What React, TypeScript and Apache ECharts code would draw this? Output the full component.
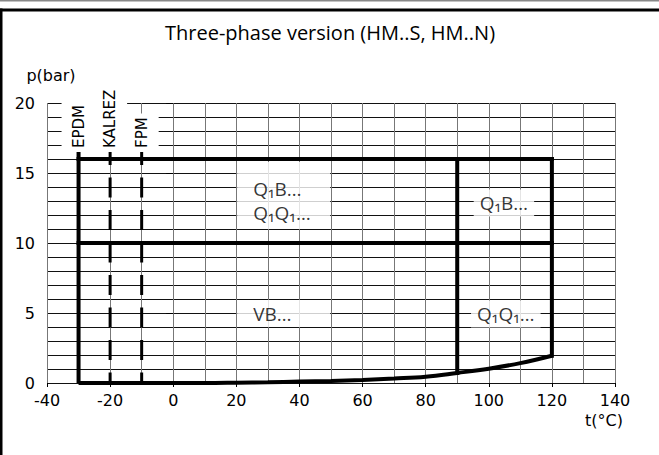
import React, { useEffect, useRef } from 'react';
import * as echarts from 'echarts';

const chartTitle = 'Three-phase version (HM..S, HM..N)';
const yAxisName = 'p(bar)';
const xAxisName = 't(°C)';

// axis ranges
const tempMin = -40;
const tempMax = 140;
const tempStep = 20;
const pressureMin = 0;
const pressureMax = 20;
const pressureStep = 5;

// lower boundary curve (pressure vs temperature)
const curveTemps = [-30, 0, 10, 20, 30, 40, 50, 60, 70, 80, 90, 100, 110, 120];
const curvePressures = [0, 0, 0, 0.02, 0.05, 0.1, 0.15, 0.22, 0.32, 0.45, 0.72, 1.02, 1.42, 1.95];

// seal materials and their minimum temperature
const sealNames = ['EPDM', 'KALREZ', 'FPM'];
const sealMinTemps = [-30, -20, -10];
const sealLineTop = 17;
const sealLabelBase = 16.5;

// operating limits
const rangeStartTemp = -30;
const rangeEndTemp = 120;
const pressureLimits = [10, 16];
const tempLimits = [90, 120];

// region labels
const regionTexts = ['Q₁B…\nQ₁Q₁…', 'Q₁B…', 'VB…', 'Q₁Q₁…'];
const regionTemps = [35, 104.8, 35, 105.4];
const regionPressures = [13.4, 12.85, 4.96, 4.93];

const SANS = 'DejaVu Sans';
const TITLE_FONT = 'Open Sans';

export default function App() {
  const ref = useRef<HTMLDivElement>(null);

  useEffect(() => {
    document.body.style.margin = '0';
    const chart = echarts.init(ref.current!, undefined, { renderer: 'svg' });

    const thick = { color: '#000', width: 4, cap: 'square' as const, join: 'miter' as const };
    const series: any[] = [];

    // lower curve
    series.push({
      type: 'line',
      data: curveTemps.map((t, i) => [t, curvePressures[i]]),
      smooth: 0.4,
      symbol: 'none',
      lineStyle: { color: '#000', width: 4 },
      z: 3,
      silent: true,
    });

    // horizontal pressure limits
    pressureLimits.forEach((p) => {
      series.push({
        type: 'line',
        data: [[rangeStartTemp, p], [rangeEndTemp, p]],
        symbol: 'none',
        lineStyle: thick,
        z: 3,
        silent: true,
      });
    });

    // vertical temperature limits
    tempLimits.forEach((t) => {
      const floor = curvePressures[curveTemps.indexOf(t)];
      series.push({
        type: 'line',
        data: [[t, floor], [t, pressureLimits[1]]],
        symbol: 'none',
        lineStyle: thick,
        z: 3,
        silent: true,
      });
    });

    // seal lines
    sealMinTemps.forEach((t, i) => {
      series.push({
        type: 'line',
        data: [[t, sealLineTop], [t, 0]],
        symbol: 'none',
        lineStyle:
          i === 0
            ? { color: '#000', width: 4 }
            : { color: '#000', width: 3, type: [20, 12.5] },
        z: 3,
        silent: true,
      });
    });

    // region labels
    series.push({
      type: 'scatter',
      symbolSize: 0,
      z: 6,
      silent: true,
      data: regionTexts.map((txt, i) => {
        const isLeft = regionTemps[i] < tempLimits[0];
        const lines = txt.split('\n');
        if (isLeft) {
          return {
            value: [regionTemps[i], regionPressures[i]],
            label: {
              show: true,
              position: 'inside',
              formatter: lines.map((s) => `{l|${s}}`).join('\n'),
              backgroundColor: '#fff',
              padding: lines.length > 1 ? [15, 6, 4, 16] : [3, 6, 3, 16],
              rich: {
                l: {
                  width: 71,
                  align: 'left',
                  fontFamily: TITLE_FONT,
                  fontSize: 19,
                  lineHeight: lines.length > 1 ? 24 : 21,
                  color: '#000',
                },
              },
            },
          };
        }
        return {
          value: [regionTemps[i], regionPressures[i]],
          label: {
            show: true,
            position: 'inside',
            formatter: txt,
            fontFamily: TITLE_FONT,
            fontSize: 19,
            lineHeight: 21,
            color: '#000',
            backgroundColor: '#fff',
            padding: [3, 6, 3, 6],
          },
        };
      }),
    });

    const staticGraphics: any[] = [
      { type: 'rect', shape: { x: 0, y: 0, width: 659, height: 1.5 }, style: { fill: '#888' } },
      { type: 'rect', shape: { x: 0, y: 8.5, width: 659, height: 3 }, style: { fill: '#000' } },
      { type: 'rect', shape: { x: 0, y: 8.5, width: 2.5, height: 447 }, style: { fill: '#000' } },
      {
        type: 'text',
        x: 330,
        y: 32,
        style: {
          text: chartTitle,
          fontFamily: TITLE_FONT,
          fontSize: 20,
          fill: '#000',
          align: 'center',
          verticalAlign: 'middle',
        },
      },
      {
        type: 'text',
        x: 51,
        y: 75,
        style: {
          text: yAxisName,
          fontFamily: SANS,
          fontSize: 16,
          fill: '#000',
          align: 'center',
          verticalAlign: 'middle',
        },
      },
      {
        type: 'text',
        x: 604,
        y: 420,
        style: {
          text: xAxisName,
          fontFamily: SANS,
          fontSize: 16,
          fill: '#000',
          align: 'center',
          verticalAlign: 'middle',
        },
      },
    ];

    const option: any = {
      animation: false,
      backgroundColor: '#fff',
      grid: { left: 47, right: 44, top: 103, bottom: 72, containLabel: false },
      xAxis: {
        type: 'value',
        min: tempMin,
        max: tempMax,
        interval: tempStep,
        axisLine: { show: false },
        axisTick: { show: true, length: 4, lineStyle: { color: '#000', width: 1 } },
        axisLabel: { fontFamily: SANS, fontSize: 16, color: '#000', margin: 9 },
        splitLine: { show: true, lineStyle: { color: '#777', width: 1 } },
        minorTick: { show: false, splitNumber: 2 },
        minorSplitLine: { show: true, lineStyle: { color: '#777', width: 1 } },
      },
      yAxis: {
        type: 'value',
        min: pressureMin,
        max: pressureMax,
        interval: pressureStep,
        axisLine: { show: false },
        axisTick: { show: true, length: 7, lineStyle: { color: '#000', width: 1 } },
        axisLabel: { fontFamily: SANS, fontSize: 16, color: '#000', margin: 12 },
        splitLine: { show: true, lineStyle: { color: '#111', width: 1 } },
        minorTick: { show: false, splitNumber: 5 },
        minorSplitLine: { show: true, lineStyle: { color: '#111', width: 1 } },
      },
      graphic: staticGraphics,
      series,
    };

    chart.setOption(option);

    // rotated seal labels, positioned through the chart's own scales
    const sealGraphics = sealNames.map((n, i) => {
      const [px, py] = chart.convertToPixel({ gridIndex: 0 }, [sealMinTemps[i], sealLabelBase]) as number[];
      return {
        type: 'text',
        x: px,
        y: py,
        rotation: Math.PI / 2,
        z: 100,
        style: {
          text: n,
          fontFamily: SANS,
          fontSize: 15,
          lineHeight: 16,
          fill: '#000',
          align: 'left',
          verticalAlign: 'middle',
          backgroundColor: '#fff',
          padding: [9, 4, 9, 4],
        },
      };
    });
    chart.setOption({ graphic: [...staticGraphics, ...sealGraphics] });

    return () => chart.dispose();
  }, []);

  return (
    <div
      ref={ref}
      style={{ position: 'absolute', left: 0, top: 0, width: 659, height: 455, background: '#fff' }}
    />
  );
}
